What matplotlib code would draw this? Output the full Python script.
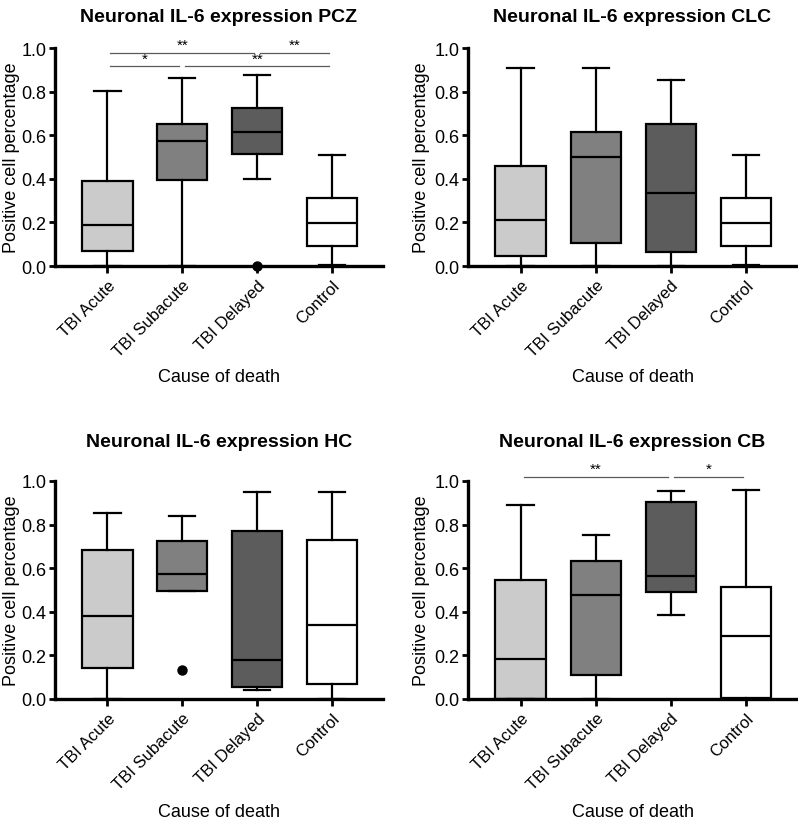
import matplotlib
matplotlib.use("Agg")
import matplotlib.pyplot as plt

plt.rcParams['font.family'] = ['Liberation Sans', 'DejaVu Sans']

categories = ["TBI Acute", "TBI Subacute", "TBI Delayed", "Control"]
colors = ["#cbcbcb", "#808080", "#5c5c5c", "#ffffff"]

titles = ["Neuronal IL-6 expression PCZ", "Neuronal IL-6 expression CLC",
          "Neuronal IL-6 expression HC", "Neuronal IL-6 expression CB"]

# each: (whislo, q1, med, q3, whishi)
pcz = [(0.0, 0.068, 0.188, 0.389, 0.804),
       (0.0, 0.394, 0.572, 0.653, 0.862),
       (0.398, 0.515, 0.616, 0.725, 0.878),
       (0.005, 0.092, 0.199, 0.310, 0.509)]
pcz_fliers = [[], [], [0.0], []]

clc = [(0.0, 0.047, 0.210, 0.460, 0.907),
       (0.0, 0.105, 0.501, 0.616, 0.907),
       (0.0, 0.066, 0.335, 0.653, 0.853),
       (0.005, 0.092, 0.199, 0.310, 0.509)]
clc_fliers = [[], [], [], []]

hc = [(0.0, 0.142, 0.382, 0.682, 0.852),
      (0.494, 0.494, 0.575, 0.723, 0.838),
      (0.043, 0.057, 0.179, 0.772, 0.948),
      (0.0, 0.069, 0.339, 0.729, 0.951)]
hc_fliers = [[], [0.133], [], []]

cb = [(0.0, 0.0, 0.183, 0.547, 0.891),
      (0.0, 0.110, 0.477, 0.635, 0.754),
      (0.387, 0.492, 0.566, 0.904, 0.953),
      (0.0, 0.006, 0.290, 0.514, 0.960)]
cb_fliers = [[], [], [], []]

# significance brackets: (i, j, y, label)
pcz_sig = [(1, 3, 0.977, "**"), (3, 4, 0.977, "**"),
           (1, 2, 0.916, "*"), (2, 4, 0.916, "**")]
clc_sig = []
hc_sig = []
cb_sig = [(1, 3, 1.02, "**"), (3, 4, 1.02, "*")]

panels = [(pcz, pcz_fliers, pcz_sig), (clc, clc_fliers, clc_sig),
          (hc, hc_fliers, hc_sig), (cb, cb_fliers, cb_sig)]

fig = plt.figure(figsize=(7.98, 8.2), dpi=100)
W, H = 798, 820
boxes = [(55, 383, 49, 267), (468, 797, 49, 267),
         (55, 383, 482, 700), (468, 797, 482, 700)]
ylabel_x = [12, 422, 12, 422]
xlabel_y = [378, 378, 813, 813]
title_y = [17, 17, 443, 443]

for k, (stats5, fliers, sig) in enumerate(panels):
    x0, x1, yt, yb = boxes[k]
    aw, ah = x1 - x0, yb - yt
    ax = fig.add_axes([x0 / W, 1 - yb / H, aw / W, ah / H])
    stats = []
    for (lo, q1, med, q3, hi), fl in zip(stats5, fliers):
        stats.append(dict(whislo=lo, q1=q1, med=med, q3=q3, whishi=hi, fliers=fl))
    bp = ax.bxp(stats, positions=[1, 2, 3, 4], widths=0.67, capwidths=0.35,
                patch_artist=True, showfliers=True,
                boxprops=dict(linewidth=1.6, edgecolor="black"),
                medianprops=dict(color="black", linewidth=1.6),
                whiskerprops=dict(color="black", linewidth=1.6),
                capprops=dict(color="black", linewidth=1.6),
                flierprops=dict(marker="o", markerfacecolor="black",
                                markeredgecolor="black", markersize=6.5))
    for patch, c in zip(bp["boxes"], colors):
        patch.set_facecolor(c)
    for fl in bp["fliers"]:
        fl.set_clip_on(False)
    ax.set_xlim(0.3, 4.68)
    ax.set_ylim(0, 1.0)
    ax.set_yticks([0.0, 0.2, 0.4, 0.6, 0.8, 1.0])
    ax.set_yticklabels(["0.0", "0.2", "0.4", "0.6", "0.8", "1.0"])
    ax.set_xticks([1, 2, 3, 4])
    ax.set_xticklabels(categories, rotation=45, ha="right", rotation_mode="anchor")
    ax.tick_params(axis="y", labelsize=13, width=2, length=4, pad=2, color="black")
    ax.tick_params(axis="x", labelsize=12, width=2, length=5, pad=3, color="black")
    for s in ["top", "right"]:
        ax.spines[s].set_visible(False)
    for s in ["left", "bottom"]:
        ax.spines[s].set_linewidth(2.4)
    ax.set_ylabel("Positive cell percentage", fontsize=13)
    ax.yaxis.label.set_va("center")
    ax.yaxis.set_label_coords((ylabel_x[k] - x0) / aw, 0.5)
    ax.set_xlabel("Cause of death", fontsize=13)
    ax.xaxis.label.set_va("center")
    ax.xaxis.set_label_coords(0.5, (yb - xlabel_y[k]) / ah)
    ax.text(0.5, (yb - title_y[k]) / ah, titles[k], transform=ax.transAxes,
            ha="center", va="center", fontsize=14, fontweight="bold")
    for (i, j, y, lab) in sig:
        ax.plot([i + 0.04, j - 0.04], [y, y], color="#5a5a5a", linewidth=0.9, clip_on=False)
        ax.text((i + j) / 2, y + 0.004, lab, ha="center", va="bottom", fontsize=11, clip_on=False)

fig.savefig("out.png", dpi=100)
